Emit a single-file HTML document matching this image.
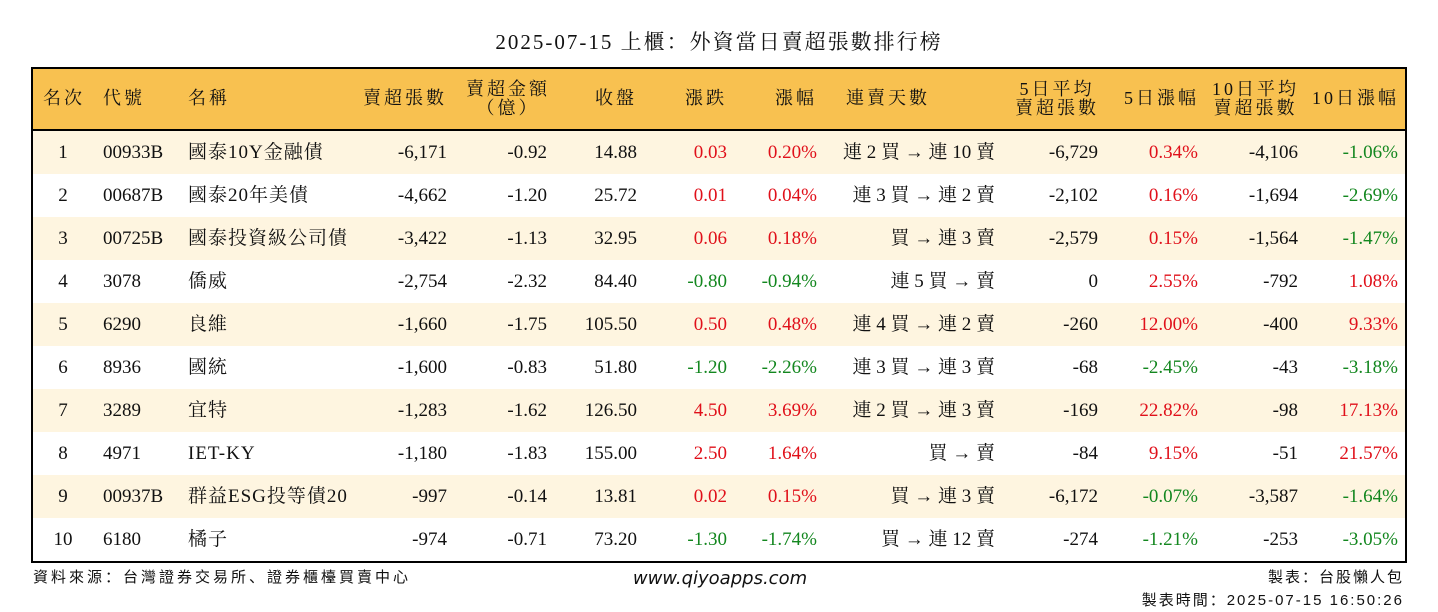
<!DOCTYPE html>
<html><head><meta charset="utf-8">
<style>
html,body{margin:0;padding:0;background:#fff;}
body{width:1438px;height:612px;position:relative;overflow:hidden;font-family:"Liberation Serif","Noto Serif CJK SC","Noto Serif CJK TC",serif;color:#111;}
.abs{position:absolute;white-space:nowrap;}
#title{left:0;width:1438px;top:28px;text-align:center;font-size:21px;line-height:28px;letter-spacing:2px;}
#box{left:31px;top:67px;width:1372px;height:492px;border:2px solid #000;overflow:hidden;}
#head{left:0;top:0;width:1372px;height:60px;background:#F8C150;border-bottom:2px solid #000;}
.row{left:0;width:1372px;height:43px;}
.cell{position:absolute;font-size:19px;line-height:43px;top:0;white-space:nowrap;}
.h{position:absolute;font-size:18px;line-height:19px;white-space:nowrap;letter-spacing:3px;text-align:center;}
.red{color:#E0101A;}
.green{color:#13871F;}
.foot{font-family:"Liberation Sans","Noto Sans CJK SC",sans-serif;font-size:15px;letter-spacing:3px;}
</style></head><body>
<div id="title" class="abs">2025-07-15 上櫃：外資當日賣超張數排行榜</div>
<div id="box" class="abs">
  <div id="head" class="abs"></div>
  <div id="rows"></div>
</div>
<div class="abs foot" style="left:33px;top:566px;">資料來源：台灣證券交易所、證券櫃檯買賣中心</div>
<div class="abs" style="left:620px;top:568px;width:200px;text-align:center;font-family:'DejaVu Sans',sans-serif;font-style:italic;font-size:18px;">www.qiyoapps.com</div>
<div class="abs foot" style="right:34px;top:566px;text-align:right;line-height:23px;letter-spacing:2px;">製表：台股懶人包<br>製表時間：2025-07-15 16:50:26</div>
<script>
const ranks=["1","2","3","4","5","6","7","8","9","10"];
const codes=["00933B","00687B","00725B","3078","6290","8936","3289","4971","00937B","6180"];
const names=["國泰10Y金融債","國泰20年美債","國泰投資級公司債","僑威","良維","國統","宜特","IET-KY","群益ESG投等債20","橘子"];
const sellVol=["-6,171","-4,662","-3,422","-2,754","-1,660","-1,600","-1,283","-1,180","-997","-974"];
const sellAmt=["-0.92","-1.20","-1.13","-2.32","-1.75","-0.83","-1.62","-1.83","-0.14","-0.71"];
const closes=["14.88","25.72","32.95","84.40","105.50","51.80","126.50","155.00","13.81","73.20"];
const changes=["0.03","0.01","0.06","-0.80","0.50","-1.20","4.50","2.50","0.02","-1.30"];
const pcts=["0.20%","0.04%","0.18%","-0.94%","0.48%","-2.26%","3.69%","1.64%","0.15%","-1.74%"];
const streaks=["連 2 買 → 連 10 賣","連 3 買 → 連 2 賣","買 → 連 3 賣","連 5 買 → 賣","連 4 買 → 連 2 賣","連 3 買 → 連 3 賣","連 2 買 → 連 3 賣","買 → 賣","買 → 連 3 賣","買 → 連 12 賣"];
const avg5=["-6,729","-2,102","-2,579","0","-260","-68","-169","-84","-6,172","-274"];
const pct5=["0.34%","0.16%","0.15%","2.55%","12.00%","-2.45%","22.82%","9.15%","-0.07%","-1.21%"];
const avg10=["-4,106","-1,694","-1,564","-792","-400","-43","-98","-51","-3,587","-253"];
const pct10=["-1.06%","-2.69%","-1.47%","1.08%","9.33%","-3.18%","17.13%","21.57%","-1.64%","-3.05%"];

const head=document.getElementById('head');
// [text, left, right]
const headers=[
 ["名次",10,null],["代號",70,null],["名稱",155,null],
 ["賣超張數",null,958],["賣超金額<br>（億）",433,null],["收盤",null,768],
 ["漲跌",null,678],["漲幅",null,588],["連賣天數",813,null],
 ["5日平均<br>賣超張數",null,306],["5日漲幅",null,206],["10日平均<br>賣超張數",null,106],["10日漲幅",null,6]];
const hn=["header-rank","header-code","header-name","header-sell-volume","header-sell-amount","header-close","header-change","header-change-pct","header-streak","header-5d-avg","header-5d-pct","header-10d-avg","header-10d-pct"];
headers.forEach((h,i)=>{
  const d=document.createElement('div');
  d.className='h';
  d.innerHTML=h[0];
  const two=h[0].includes('<br>');
  d.style.top=(two?11:20)+'px';
  if(h[1]!==null)d.style.left=h[1]+'px'; else d.style.right=h[2]+'px';
  
  
  head.appendChild(d);
});

const rowsEl=document.getElementById('rows');
function colorOf(v){return v.startsWith('-')?'green':(v==='0'||v==='0.00%'?'':'red');}
for(let i=0;i<ranks.length;i++){
  const r=document.createElement('div');
  r.className='abs row';
  r.style.top=(62+i*43)+'px';
  r.style.background=(i%2===0)?'#FEF5E0':'#fff';
  
  
  const cells=[
   [ranks[i],'center',16,'rank',''],
   [codes[i],'left',70,'code',''],
   [names[i],'left',155,'name',''],
   [sellVol[i],'right',1372-414,'sell-volume',''],
   [sellAmt[i],'right',1372-514,'sell-amount',''],
   [closes[i],'right',1372-604,'close',''],
   [changes[i],'right',1372-694,'change',colorOf(changes[i])],
   [pcts[i],'right',1372-784,'change-pct',colorOf(pcts[i])],
   [streaks[i],'right',1372-962,'streak',''],
   [avg5[i],'right',1372-1065,'avg-5d',''],
   [pct5[i],'right',1372-1165,'pct-5d',colorOf(pct5[i])],
   [avg10[i],'right',1372-1265,'avg-10d',''],
   [pct10[i],'right',1372-1365,'pct-10d',colorOf(pct10[i])]];
  cells.forEach(c=>{
    const d=document.createElement('div');
    d.className='cell '+c[4];
    d.textContent=c[0];
    if(c[1]==='left')d.style.left=c[2]+'px';
    else if(c[1]==='center'){d.style.left=c[2]+'px';d.style.width='28px';d.style.textAlign='center';}
    else d.style.right=c[2]+'px';
    if(c[3]==='name')d.style.letterSpacing='1px';
    if(c[3]==='streak')d.style.letterSpacing='0px';
    
    
    r.appendChild(d);
  });
  rowsEl.appendChild(r);
}
</script>
</body></html>
